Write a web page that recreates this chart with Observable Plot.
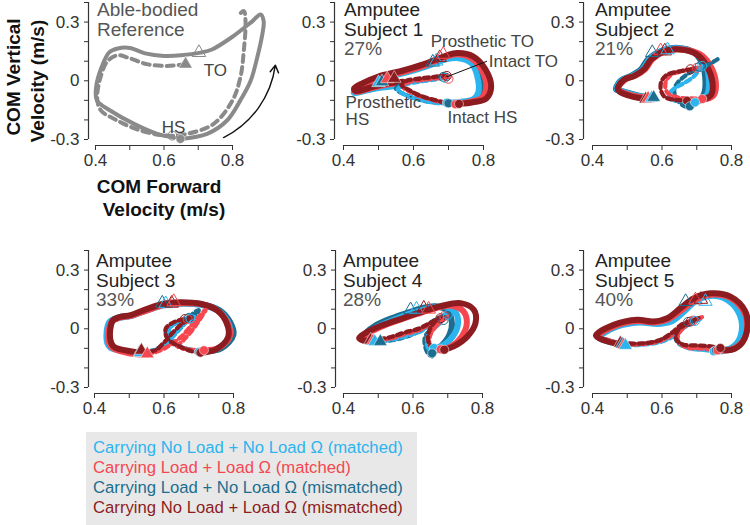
<!DOCTYPE html>
<html><head><meta charset="utf-8">
<script src="https://cdn.jsdelivr.net/npm/d3@7"></script>
<script src="https://cdn.jsdelivr.net/npm/@observablehq/plot@0.6"></script>
<style>
html,body{margin:0;padding:0;background:#fff;}
#root{position:relative;width:750px;height:525px;overflow:hidden;background:#fff;font-family:'Liberation Sans',Arial,sans-serif;}
.abs{position:absolute;white-space:nowrap;}
</style></head>
<body><div id="root"></div>
<script>
// ---------- data ----------
const conditions = ["C", "R", "T", "D"];
const conditionLabels = [
  "Carrying No Load + No Load Ω (matched)",
  "Carrying Load + Load Ω (matched)",
  "Carrying Load + No Load Ω (mismatched)",
  "Carrying No Load + Load Ω (mismatched)"
];
const conditionColors = ["#2cb4ee", "#f4474f", "#1b6e90", "#8d1c20"];
const refColor = "#8a8a8a";
const xTicks = [0.4, 0.5, 0.6, 0.7, 0.8];
const xTickLabels = [0.4, 0.6, 0.8];
const yTicks = [-0.3, -0.2, -0.1, 0, 0.1, 0.2, 0.3, 0.4];
const yTickLabels = [-0.3, 0, 0.3];
const subjectNames = ["Subject 1", "Subject 2", "Subject 3", "Subject 4", "Subject 5"];
const subjectPercents = ["27%", "21%", "33%", "28%", "40%"];

// Able-bodied reference
const refSolid = [[0.648,-0.297],[0.726,-0.271],[0.784,-0.203],[0.823,-0.10],[0.853,0.0],[0.872,0.118],[0.887,0.237],[0.891,0.305],[0.882,0.339],[0.855,0.30],[0.80,0.225],[0.74,0.16],[0.707,0.144],[0.65,0.13],[0.60,0.127],[0.545,0.14],[0.50,0.168],[0.465,0.165],[0.44,0.145],[0.418,0.07],[0.402,-0.03],[0.404,-0.10],[0.444,-0.153],[0.511,-0.219],[0.58,-0.271],[0.629,-0.29]];
const refDashed = [[0.663,0.085],[0.609,0.076],[0.55,0.085],[0.50,0.115],[0.465,0.13],[0.435,0.10],[0.415,0.02],[0.405,-0.09],[0.415,-0.15],[0.46,-0.2],[0.531,-0.254],[0.609,-0.28],[0.668,-0.271],[0.745,-0.22],[0.80,-0.10],[0.823,0.017],[0.833,0.153],[0.838,0.305],[0.833,0.356],[0.815,0.33]];
const refEvents = [["TOp",0.702,0.144],["HSp",0.663,0.085],["TOi",0.624,-0.28],["HSi",0.648,-0.297]];
const refNotes = [["TO",0.75,0.051],["HS",0.628,-0.239]];
const refArrow = [[0.774,-0.29,0.925,0.08]];

// Subject 1
const s1Solid = [
  ["T", [[0.56,-0.02],[0.51,-0.03],[0.465,-0.048],[0.432,-0.058],[0.433,-0.046],[0.46,-0.02],[0.51,0.015],[0.575,0.045],[0.64,0.08],[0.69,0.115],[0.73,0.125],[0.77,0.1],[0.795,0.035],[0.798,-0.05],[0.78,-0.095],[0.74,-0.11],[0.70,-0.115]]],
  ["C", [[0.56,-0.025],[0.51,-0.035],[0.465,-0.05],[0.43,-0.062],[0.432,-0.05],[0.46,-0.025],[0.51,0.01],[0.575,0.04],[0.64,0.075],[0.69,0.108],[0.73,0.115],[0.765,0.09],[0.782,0.025],[0.785,-0.06],[0.77,-0.095],[0.73,-0.108],[0.695,-0.112]]],
  ["R", [[0.57,-0.01],[0.52,-0.02],[0.47,-0.042],[0.435,-0.056],[0.432,-0.045],[0.46,-0.018],[0.505,0.018],[0.57,0.045],[0.635,0.08],[0.685,0.118],[0.725,0.135],[0.765,0.115],[0.795,0.055],[0.808,-0.03],[0.795,-0.088],[0.76,-0.108],[0.72,-0.118]]],
  ["D", [[0.57,-0.005],[0.52,-0.015],[0.47,-0.038],[0.435,-0.052],[0.43,-0.04],[0.455,-0.012],[0.50,0.022],[0.565,0.05],[0.63,0.085],[0.68,0.12],[0.725,0.142],[0.77,0.125],[0.805,0.06],[0.822,-0.03],[0.808,-0.09],[0.77,-0.11],[0.73,-0.118]]]
];
const s1Dashed = [
  ["T", [[0.685,0.02],[0.65,0.01],[0.61,0.0],[0.57,-0.015],[0.55,-0.04],[0.575,-0.07],[0.615,-0.095],[0.655,-0.11],[0.70,-0.115]]],
  ["C", [[0.69,0.015],[0.655,0.005],[0.615,-0.005],[0.575,-0.02],[0.555,-0.045],[0.58,-0.075],[0.62,-0.098],[0.66,-0.112],[0.695,-0.115]]],
  ["R", [[0.70,0.02],[0.665,0.012],[0.625,0.004],[0.585,-0.008],[0.57,-0.03],[0.595,-0.06],[0.63,-0.085],[0.67,-0.105],[0.70,-0.118],[0.72,-0.12]]],
  ["D", [[0.695,0.03],[0.66,0.02],[0.62,0.012],[0.58,0.0],[0.565,-0.02],[0.59,-0.05],[0.625,-0.08],[0.665,-0.1],[0.70,-0.115],[0.73,-0.118]]]
];
const s1Events = [
  ["T","TOp",0.655,0.095],["C","TOp",0.665,0.10],["D","TOp",0.675,0.118],["R","TOp",0.685,0.135],
  ["T","TOi",0.685,0.02],["C","TOi",0.69,0.015],["R","TOi",0.70,0.01],["D","TOi",0.695,0.025],
  ["C","HSp",0.50,-0.01],["T","HSp",0.51,-0.005],["R","HSp",0.525,0.01],["D","HSp",0.545,0.012],
  ["C","HSi",0.695,-0.112],["T","HSi",0.70,-0.115],["R","HSi",0.72,-0.12],["D","HSi",0.73,-0.118]
];
const s1Notes = [["Prosthetic TO",0.649,0.203],["Intact TO",0.815,0.10],["Prosthetic",0.406,-0.112],["HS",0.406,-0.2],["Intact HS",0.697,-0.188]];
const s1Leader = [[0.695,0.02,0.81,0.10]];

// Subject 2
const s2Solid = [
  ["T", [[0.575,-0.085],[0.53,-0.075],[0.49,-0.055],[0.468,-0.045],[0.48,0.0],[0.51,0.025],[0.54,0.06],[0.56,0.11],[0.60,0.155],[0.645,0.168],[0.69,0.148],[0.715,0.09],[0.725,0.0],[0.72,-0.07],[0.70,-0.11],[0.68,-0.13]]],
  ["C", [[0.57,-0.088],[0.525,-0.075],[0.485,-0.052],[0.47,-0.04],[0.485,0.004],[0.515,0.025],[0.545,0.06],[0.565,0.112],[0.605,0.155],[0.65,0.165],[0.695,0.142],[0.725,0.085],[0.735,0.0],[0.73,-0.07],[0.71,-0.1],[0.695,-0.11]]],
  ["R", [[0.56,-0.09],[0.515,-0.075],[0.48,-0.052],[0.475,-0.035],[0.495,0.008],[0.525,0.028],[0.552,0.06],[0.572,0.11],[0.61,0.152],[0.66,0.16],[0.71,0.135],[0.74,0.075],[0.755,-0.01],[0.75,-0.07],[0.73,-0.092],[0.716,-0.093]]],
  ["D", [[0.553,-0.093],[0.51,-0.078],[0.478,-0.055],[0.472,-0.04],[0.49,0.005],[0.52,0.025],[0.548,0.058],[0.568,0.108],[0.605,0.15],[0.652,0.16],[0.70,0.135],[0.728,0.078],[0.745,-0.005],[0.742,-0.07],[0.72,-0.095],[0.69,-0.10],[0.672,-0.102]]]
];
const s2Dashed = [
  ["T", [[0.76,0.11],[0.73,0.08],[0.70,0.06],[0.67,0.03],[0.645,-0.01],[0.635,-0.05],[0.645,-0.10],[0.665,-0.13],[0.68,-0.13]]],
  ["C", [[0.716,0.076],[0.69,0.02],[0.66,-0.015],[0.635,-0.04],[0.62,-0.07],[0.625,-0.095],[0.66,-0.105],[0.695,-0.11]]],
  ["R", [[0.70,0.066],[0.66,0.05],[0.625,0.03],[0.61,-0.01],[0.615,-0.06],[0.645,-0.085],[0.68,-0.09],[0.716,-0.093]]],
  ["D", [[0.686,0.06],[0.65,0.048],[0.612,0.028],[0.597,-0.01],[0.598,-0.055],[0.61,-0.085],[0.64,-0.098],[0.672,-0.102]]]
];
const s2Events = [
  ["T","TOp",0.572,0.144],["R","TOp",0.596,0.153],["D","TOp",0.608,0.152],["C","TOp",0.616,0.158],
  ["D","TOi",0.682,0.059],["R","TOi",0.70,0.066],["T","TOi",0.708,0.072],["C","TOi",0.716,0.076],
  ["D","HSp",0.553,-0.093],["R","HSp",0.56,-0.09],["C","HSp",0.57,-0.088],["T","HSp",0.576,-0.085],
  ["D","HSi",0.672,-0.102],["R","HSi",0.716,-0.093],["T","HSi",0.68,-0.13],["C","HSi",0.695,-0.11]
];

// Subject 3
const s3Solid = [
  ["T", [[0.71,-0.115],[0.765,-0.1],[0.8,-0.03],[0.79,0.035],[0.76,0.095],[0.71,0.125],[0.65,0.132],[0.60,0.125],[0.545,0.093],[0.505,0.066],[0.47,0.058],[0.445,0.035],[0.438,-0.055],[0.448,-0.09],[0.49,-0.115],[0.53,-0.12]]],
  ["C", [[0.70,-0.118],[0.755,-0.1],[0.79,-0.035],[0.785,0.03],[0.755,0.092],[0.705,0.122],[0.648,0.128],[0.60,0.12],[0.545,0.09],[0.505,0.065],[0.47,0.055],[0.443,0.035],[0.435,-0.06],[0.445,-0.095],[0.485,-0.115],[0.53,-0.122]]],
  ["R", [[0.715,-0.11],[0.758,-0.098],[0.79,-0.035],[0.783,0.03],[0.755,0.092],[0.71,0.125],[0.652,0.13],[0.603,0.122],[0.548,0.092],[0.508,0.068],[0.475,0.058],[0.45,0.038],[0.44,-0.05],[0.45,-0.095],[0.50,-0.125],[0.552,-0.132]]],
  ["D", [[0.705,-0.122],[0.75,-0.105],[0.785,-0.04],[0.78,0.03],[0.752,0.095],[0.705,0.128],[0.647,0.136],[0.598,0.128],[0.542,0.095],[0.504,0.07],[0.472,0.06],[0.452,0.04],[0.445,-0.05],[0.455,-0.09],[0.495,-0.112],[0.535,-0.122]]]
];
const s3Dashed = [
  ["T", [[0.53,-0.12],[0.575,-0.107],[0.614,-0.056],[0.652,0.012],[0.685,0.08],[0.70,0.095],[0.69,0.07],[0.66,0.045],[0.625,0.02],[0.605,-0.02],[0.62,-0.07],[0.66,-0.10],[0.71,-0.115]]],
  ["C", [[0.53,-0.122],[0.57,-0.11],[0.605,-0.075],[0.63,-0.03],[0.655,0.02],[0.675,0.055],[0.69,0.06],[0.67,0.045],[0.635,0.03],[0.615,-0.005],[0.625,-0.06],[0.66,-0.1],[0.70,-0.118]]],
  ["R", [[0.552,-0.132],[0.59,-0.11],[0.62,-0.08],[0.65,-0.04],[0.68,0.02],[0.715,0.09],[0.72,0.097],[0.70,0.04],[0.68,-0.01],[0.655,-0.06],[0.64,-0.09],[0.67,-0.105],[0.715,-0.11]]],
  ["D", [[0.535,-0.12],[0.575,-0.11],[0.60,-0.07],[0.625,-0.02],[0.655,0.03],[0.68,0.06],[0.67,0.055],[0.63,0.035],[0.605,0.0],[0.61,-0.05],[0.645,-0.09],[0.68,-0.115],[0.705,-0.122]]]
];
const s3Events = [
  ["T","TOp",0.595,0.131],["C","TOp",0.605,0.128],["D","TOp",0.622,0.13],["R","TOp",0.628,0.139],
  ["D","TOi",0.66,0.05],["R","TOi",0.668,0.05],["T","TOi",0.672,0.056],["C","TOi",0.676,0.052],
  ["T","HSp",0.53,-0.12],["C","HSp",0.532,-0.122],["D","HSp",0.535,-0.11],["R","HSp",0.552,-0.128],
  ["C","HSi",0.70,-0.118],["T","HSi",0.71,-0.115],["D","HSi",0.705,-0.122],["R","HSi",0.715,-0.11]
];

// Subject 4
const s4Solid = [
  ["T", [[0.655,-0.125],[0.68,-0.09],[0.705,-0.03],[0.712,0.03],[0.70,0.09],[0.665,0.115],[0.625,0.105],[0.59,0.085],[0.54,0.055],[0.495,0.02],[0.462,-0.025],[0.452,-0.05],[0.475,-0.065],[0.506,-0.065]]],
  ["C", [[0.66,-0.098],[0.69,-0.08],[0.718,-0.03],[0.73,0.035],[0.72,0.09],[0.69,0.115],[0.65,0.105],[0.605,0.085],[0.55,0.05],[0.50,0.012],[0.465,-0.03],[0.452,-0.052],[0.465,-0.065],[0.49,-0.065]]],
  ["R", [[0.68,-0.105],[0.71,-0.09],[0.74,-0.04],[0.755,0.03],[0.745,0.09],[0.71,0.118],[0.665,0.105],[0.62,0.08],[0.565,0.048],[0.505,0.008],[0.465,-0.03],[0.45,-0.05],[0.46,-0.062],[0.485,-0.062]]],
  ["D", [[0.69,-0.107],[0.717,-0.09],[0.756,-0.04],[0.78,0.03],[0.775,0.097],[0.737,0.131],[0.679,0.115],[0.631,0.09],[0.574,0.056],[0.506,0.014],[0.46,-0.025],[0.445,-0.047],[0.455,-0.058],[0.478,-0.058]]]
];
const s4Dashed = [
  ["T", [[0.506,-0.065],[0.55,-0.055],[0.59,-0.035],[0.625,-0.005],[0.65,0.03],[0.68,0.06],[0.69,0.055],[0.66,0.01],[0.635,-0.04],[0.635,-0.09],[0.645,-0.13],[0.655,-0.14]]],
  ["C", [[0.49,-0.065],[0.54,-0.055],[0.585,-0.035],[0.625,-0.01],[0.655,0.03],[0.69,0.07],[0.70,0.07],[0.675,0.025],[0.645,-0.03],[0.64,-0.08],[0.65,-0.11],[0.66,-0.098]]],
  ["R", [[0.485,-0.062],[0.535,-0.05],[0.58,-0.025],[0.62,-0.005],[0.655,0.03],[0.69,0.06],[0.695,0.06],[0.67,0.02],[0.65,-0.03],[0.648,-0.08],[0.665,-0.105],[0.68,-0.105]]],
  ["D", [[0.478,-0.058],[0.53,-0.045],[0.574,-0.02],[0.615,0.0],[0.65,0.03],[0.675,0.055],[0.68,0.06],[0.66,0.03],[0.645,-0.02],[0.645,-0.07],[0.66,-0.1],[0.69,-0.107]]]
];
const s4Events = [
  ["T","TOp",0.593,0.097],["C","TOp",0.61,0.1],["D","TOp",0.631,0.105],["R","TOp",0.645,0.1],
  ["D","TOi",0.679,0.054],["T","TOi",0.688,0.045],["R","TOi",0.69,0.065],["C","TOi",0.70,0.071],
  ["D","HSp",0.478,-0.058],["R","HSp",0.485,-0.062],["C","HSp",0.49,-0.065],["T","HSp",0.506,-0.065],
  ["C","HSi",0.66,-0.098],["T","HSi",0.655,-0.125],["R","HSi",0.68,-0.105],["D","HSi",0.69,-0.107]
];

// Subject 5
const s5Solid = [
  ["T", [[0.755,-0.11],[0.79,-0.105],[0.82,-0.07],[0.835,0.005],[0.825,0.09],[0.79,0.155],[0.742,0.172],[0.695,0.15],[0.66,0.095],[0.625,0.045],[0.585,0.03],[0.532,0.037],[0.468,0.012],[0.418,-0.042],[0.45,-0.065],[0.485,-0.078]]],
  ["C", [[0.749,-0.115],[0.785,-0.11],[0.815,-0.075],[0.83,0.0],[0.82,0.085],[0.785,0.15],[0.74,0.168],[0.70,0.145],[0.665,0.09],[0.63,0.04],[0.59,0.025],[0.535,0.032],[0.47,0.01],[0.42,-0.045],[0.455,-0.07],[0.495,-0.085]]],
  ["R", [[0.76,-0.11],[0.80,-0.105],[0.83,-0.07],[0.845,0.0],[0.835,0.09],[0.795,0.16],[0.745,0.175],[0.70,0.152],[0.66,0.1],[0.62,0.05],[0.58,0.032],[0.53,0.04],[0.465,0.015],[0.415,-0.04],[0.45,-0.065],[0.49,-0.082]]],
  ["D", [[0.768,-0.098],[0.79,-0.11],[0.826,-0.081],[0.845,-0.005],[0.84,0.088],[0.797,0.164],[0.74,0.181],[0.692,0.156],[0.653,0.105],[0.615,0.054],[0.576,0.037],[0.529,0.046],[0.461,0.02],[0.41,-0.035],[0.435,-0.06],[0.47,-0.075],[0.48,-0.073]]]
];
const s5Dashed = [
  ["T", [[0.485,-0.078],[0.54,-0.078],[0.59,-0.062],[0.628,-0.03],[0.658,0.015],[0.685,0.035],[0.70,0.045],[0.67,0.015],[0.64,-0.03],[0.645,-0.07],[0.675,-0.095],[0.715,-0.105],[0.755,-0.11]]],
  ["C", [[0.495,-0.085],[0.55,-0.08],[0.60,-0.065],[0.635,-0.035],[0.662,0.015],[0.69,0.035],[0.71,0.05],[0.675,0.02],[0.645,-0.03],[0.65,-0.075],[0.68,-0.10],[0.72,-0.108],[0.749,-0.115]]],
  ["R", [[0.49,-0.082],[0.545,-0.078],[0.595,-0.062],[0.63,-0.03],[0.66,0.02],[0.69,0.042],[0.715,0.06],[0.68,0.03],[0.65,-0.02],[0.645,-0.06],[0.67,-0.095],[0.71,-0.10],[0.76,-0.11]]],
  ["D", [[0.48,-0.073],[0.54,-0.075],[0.59,-0.06],[0.625,-0.025],[0.655,0.02],[0.682,0.04],[0.705,0.055],[0.67,0.025],[0.645,-0.01],[0.64,-0.05],[0.66,-0.08],[0.70,-0.085],[0.74,-0.09],[0.768,-0.098]]]
];
const s5Events = [
  ["T","TOp",0.668,0.139],["R","TOp",0.696,0.147],["D","TOp",0.712,0.15],["C","TOp",0.725,0.14],
  ["T","TOi",0.675,0.035],["D","TOi",0.682,0.037],["R","TOi",0.69,0.042],["C","TOi",0.695,0.04],
  ["D","HSp",0.48,-0.073],["T","HSp",0.485,-0.078],["R","HSp",0.49,-0.082],["C","HSp",0.495,-0.085],
  ["C","HSi",0.749,-0.115],["T","HSi",0.755,-0.11],["R","HSi",0.76,-0.11],["D","HSi",0.768,-0.098]
];

// ---------- drawing ----------
const FONT = "'Liberation Sans', Arial, sans-serif";
const AXIS = "#333";
const root = document.getElementById("root");

const toRows = groups => groups.flatMap(([c, pts]) => pts.map(([x, y]) => ({c, x, y})));
const toEvents = rows => rows.map(r => r.length === 4 ? {c: r[0], t: r[1], x: r[2], y: r[3]} : {c: "ref", t: r[0], x: r[1], y: r[2]});

function eventMarks(ev, color) {
  const col = color ? () => color : "c";
  const f = t => ev.filter(d => d.t === t);
  return [
    Plot.dot(f("HSi"), {x: "x", y: "y", r: 4.5, symbol: "circle", fill: col, stroke: "white", strokeWidth: 0.5}),
    Plot.dot(f("HSp"), {x: "x", y: "y", r: 5, symbol: "triangle", fill: col, stroke: "white", strokeWidth: 0.5}),
    Plot.dot(f("TOi"), {x: "x", y: "y", r: 4.5, symbol: "circle", fill: "none", stroke: col, strokeWidth: 1}),
    Plot.dot(f("TOp"), {x: "x", y: "y", r: 5, symbol: "triangle", fill: "none", stroke: col, strokeWidth: 1})
  ];
}

function subjectMarks(solid, dashed, events) {
  return [
    Plot.line(toRows(solid), {x: "x", y: "y", z: "c", stroke: "c", strokeWidth: 6, curve: "catmull-rom", strokeLinejoin: "round", strokeLinecap: "round"}),
    Plot.line(toRows(dashed), {x: "x", y: "y", z: "c", stroke: "c", strokeWidth: 4.3, strokeDasharray: "5,4", curve: "catmull-rom"}),
    ...eventMarks(toEvents(events))
  ];
}

function buildPanel(ax, top, inset, span, marks) {
  const marginLeft = 44, marginRight = 20;
  const width = marginLeft + inset + span + marginRight;
  const svg = Plot.plot({
    width, height: 175,
    marginLeft, marginRight, marginTop: 2, marginBottom: 30,
    x: {domain: [xTicks[0], xTicks[xTicks.length - 1]], insetLeft: inset},
    y: {domain: [yTicks[0], yTicks[yTicks.length - 1]], insetBottom: 6},
    color: {domain: conditions, range: conditionColors},
    style: {background: "transparent", overflow: "visible", fontSize: "17px", fontFamily: FONT, color: AXIS, maxWidth: "none"},
    marks: [
      Plot.ruleX([xTicks[0]], {y1: yTicks[0], y2: yTicks[yTicks.length - 1], dx: -inset, stroke: AXIS, strokeWidth: 1.2}),
      Plot.ruleY([yTicks[0]], {x1: xTicks[0], x2: xTicks[xTicks.length - 1], dy: 6, stroke: AXIS, strokeWidth: 1.2}),
      Plot.axisY(yTicks, {anchor: "left", tickSize: 4, tickPadding: 5, label: null, fontSize: 17,
        tickFormat: d => yTickLabels.includes(d) ? String(d) : ""}),
      Plot.axisX(xTicks, {anchor: "bottom", tickSize: 5, tickPadding: 3, label: null, fontSize: 17,
        tickFormat: d => xTickLabels.includes(d) ? String(d) : ""}),
      ...marks
    ]
  });
  const div = document.createElement("div");
  div.className = "abs";
  div.style.left = (ax - marginLeft) + "px";
  div.style.top = top + "px";
  div.append(svg);
  root.append(div);
}

function addText(text, left, top, css) {
  const d = document.createElement("div");
  d.className = "abs";
  d.textContent = text;
  d.style.left = left + "px";
  d.style.top = top + "px";
  Object.assign(d.style, css);
  root.append(d);
  return d;
}

// Panel 1: able-bodied reference
buildPanel(88, 0, 7, 137, [
  Plot.line(refDashed, {x: d => d[0], y: d => d[1], stroke: refColor, strokeWidth: 4, strokeDasharray: "7,5", curve: "catmull-rom"}),
  Plot.line(refSolid, {x: d => d[0], y: d => d[1], stroke: refColor, strokeWidth: 4, curve: "catmull-rom", strokeLinecap: "round"}),
  ...eventMarks(toEvents(refEvents), refColor),
  Plot.text(refNotes, {x: d => d[1], y: d => d[2], text: d => d[0], fill: "#444", fontSize: 17, textAnchor: "middle"}),
  Plot.arrow(refArrow, {x1: d => d[0], y1: d => d[1], x2: d => d[2], y2: d => d[3], bend: -28, stroke: "#111", strokeWidth: 1.4, headLength: 9})
]);

// Subject panels
buildPanel(334, 0, 9, 140, [
  ...subjectMarks(s1Solid, s1Dashed, s1Events),
  Plot.link(s1Leader, {x1: d => d[0], y1: d => d[1], x2: d => d[2], y2: d => d[3], stroke: "#111", strokeWidth: 1}),
  Plot.text(s1Notes, {x: d => d[1], y: d => d[2], text: d => d[0], fill: "#444", fontSize: 17, textAnchor: "start"})
]);
buildPanel(583, 0, 9, 139, subjectMarks(s2Solid, s2Dashed, s2Events));
buildPanel(88, 248, 6, 139, subjectMarks(s3Solid, s3Dashed, s3Events));
buildPanel(335, 248, 8, 139, subjectMarks(s4Solid, s4Dashed, s4Events));
buildPanel(583, 248, 9, 139, subjectMarks(s5Solid, s5Dashed, s5Events));

// Panel labels
const labelCss = {fontSize: "19px", lineHeight: "19.5px", fontFamily: FONT};
addText("Able-bodied", 97, 0, {...labelCss, color: "#555"});
addText("Reference", 97, 19.5, {...labelCss, color: "#555"});
const labelLeft = [344, 595, 96, 343, 595];
const labelTop = [0, 0, 251, 251, 251];
subjectNames.forEach((s, i) => {
  addText("Amputee", labelLeft[i], labelTop[i], {...labelCss, color: "#222"});
  addText(s, labelLeft[i], labelTop[i] + 19.5, {...labelCss, color: "#222"});
  addText(subjectPercents[i], labelLeft[i], labelTop[i] + 39, {...labelCss, color: "#555"});
});

// Axis titles
const titleCss = {fontSize: "19px", fontWeight: "bold", lineHeight: "1", color: "#111", fontFamily: FONT};
addText("COM Forward", 159, 186, {...titleCss, transform: "translate(-50%,-50%)"});
addText("Velocity (m/s)", 164, 209, {...titleCss, transform: "translate(-50%,-50%)"});
addText("COM Vertical", 13, 77, {...titleCss, transform: "translate(-50%,-50%) rotate(-90deg)"});
addText("Velocity (m/s)", 37, 81, {...titleCss, transform: "translate(-50%,-50%) rotate(-90deg)"});

// Legend
const legend = document.createElement("div");
legend.className = "abs";
Object.assign(legend.style, {left: "86px", top: "432px", width: "331px", height: "93px", background: "#e8e8e8", padding: "6px 0 0 7px", boxSizing: "border-box"});
conditionLabels.forEach((t, i) => {
  const line = document.createElement("div");
  line.textContent = t;
  Object.assign(line.style, {color: conditionColors[i], fontSize: "16.7px", lineHeight: "20px", fontFamily: FONT});
  legend.append(line);
});
root.append(legend);
</script>
</body></html>
